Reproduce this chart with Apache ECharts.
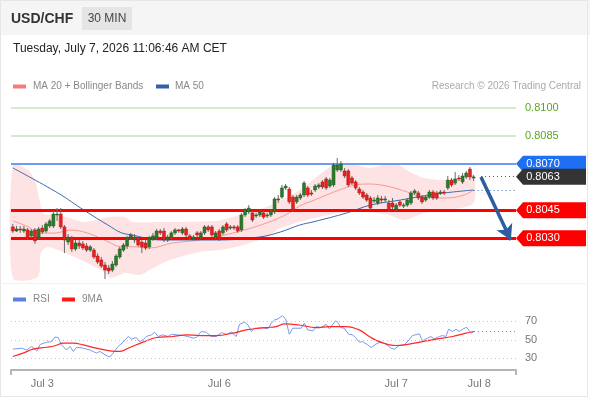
<!DOCTYPE html>
<html>
<head>
<meta charset="utf-8">
<script src="https://cdn.jsdelivr.net/npm/echarts@6.0.0/dist/echarts.min.js"></script>
<style>
  html, body { margin: 0; padding: 0; background: #fff; }
  #chart { width: 590px; height: 400px; }
</style>
</head>
<body>
<div id="chart"></div>
<script>
const FONT = '"Liberation Sans", Arial, sans-serif';

// candles, 30 min, index 0..125
const candleOpen = [
  0.80361,0.80339,0.80350,0.80339,0.80345,0.80313,0.80345,0.80307,0.80355,0.80339,
  0.80366,0.80366,0.80425,0.80430,0.80361,0.80280,0.80302,0.80243,0.80275,0.80270,
  0.80259,0.80237,0.80237,0.80205,0.80184,0.80157,0.80141,0.80130,0.80157,0.80200,
  0.80237,0.80259,0.80302,0.80291,0.80291,0.80280,0.80275,0.80254,0.80296,0.80307,
  0.80339,0.80339,0.80291,0.80307,0.80329,0.80345,0.80329,0.80350,0.80313,0.80296,
  0.80329,0.80307,0.80329,0.80361,0.80361,0.80307,0.80339,0.80329,0.80377,0.80355,
  0.80361,0.80361,0.80345,0.80425,0.80441,0.80436,0.80420,0.80425,0.80436,0.80420,
  0.80425,0.80441,0.80511,0.80521,0.80570,0.80564,0.80521,0.80495,0.80516,0.80532,
  0.80570,0.80543,0.80559,0.80575,0.80602,0.80618,0.80580,0.80586,0.80666,0.80666,
  0.80661,0.80661,0.80623,0.80602,0.80564,0.80548,0.80532,0.80516,0.80500,0.80489,
  0.80511,0.80505,0.80489,0.80489,0.80457,0.80495,0.80473,0.80478,0.80489,0.80543,
  0.80543,0.80521,0.80505,0.80521,0.80548,0.80543,0.80543,0.80548,0.80570,0.80612,
  0.80596,0.80623,0.80602,0.80629,0.80671,0.80623
];
const candleClose = [
  0.80339,0.80350,0.80345,0.80350,0.80302,0.80339,0.80286,0.80350,0.80334,0.80377,
  0.80393,0.80430,0.80430,0.80361,0.80291,0.80307,0.80243,0.80275,0.80259,0.80248,
  0.80237,0.80254,0.80200,0.80173,0.80151,0.80130,0.80125,0.80162,0.80205,0.80243,
  0.80264,0.80302,0.80318,0.80307,0.80264,0.80254,0.80248,0.80302,0.80313,0.80339,
  0.80329,0.80291,0.80307,0.80329,0.80345,0.80339,0.80350,0.80318,0.80307,0.80307,
  0.80318,0.80329,0.80361,0.80345,0.80318,0.80329,0.80296,0.80361,0.80345,0.80361,
  0.80355,0.80339,0.80425,0.80452,0.80462,0.80398,0.80425,0.80441,0.80414,0.80425,
  0.80441,0.80511,0.80505,0.80570,0.80580,0.80495,0.80452,0.80521,0.80532,0.80596,
  0.80532,0.80537,0.80580,0.80586,0.80575,0.80570,0.80612,0.80693,0.80693,0.80698,
  0.80634,0.80586,0.80596,0.80570,0.80543,0.80521,0.80505,0.80462,0.80505,0.80516,
  0.80505,0.80511,0.80452,0.80468,0.80478,0.80478,0.80478,0.80505,0.80543,0.80554,
  0.80516,0.80495,0.80521,0.80548,0.80516,0.80516,0.80548,0.80543,0.80612,0.80586,
  0.80618,0.80618,0.80634,0.80650,0.80629,0.80629
];
const candleLow = [
  0.80329,0.80334,0.80329,0.80329,0.80291,0.80302,0.80270,0.80296,0.80323,0.80329,
  0.80355,0.80355,0.80393,0.80350,0.80221,0.80264,0.80227,0.80232,0.80243,0.80237,
  0.80227,0.80227,0.80189,0.80162,0.80141,0.80082,0.80109,0.80119,0.80146,0.80189,
  0.80227,0.80243,0.80291,0.80275,0.80254,0.80221,0.80237,0.80243,0.80286,0.80296,
  0.80318,0.80280,0.80280,0.80296,0.80318,0.80329,0.80318,0.80307,0.80291,0.80286,
  0.80307,0.80296,0.80318,0.80334,0.80307,0.80296,0.80286,0.80318,0.80334,0.80345,
  0.80345,0.80329,0.80334,0.80414,0.80430,0.80387,0.80409,0.80414,0.80404,0.80409,
  0.80414,0.80430,0.80489,0.80511,0.80559,0.80484,0.80441,0.80484,0.80505,0.80521,
  0.80521,0.80527,0.80548,0.80564,0.80564,0.80559,0.80570,0.80575,0.80655,0.80655,
  0.80623,0.80575,0.80586,0.80559,0.80532,0.80511,0.80495,0.80452,0.80489,0.80478,
  0.80489,0.80495,0.80441,0.80457,0.80446,0.80468,0.80462,0.80468,0.80478,0.80532,
  0.80505,0.80484,0.80495,0.80511,0.80505,0.80505,0.80532,0.80532,0.80559,0.80575,
  0.80586,0.80607,0.80591,0.80618,0.80612,0.80607
];
const candleHigh = [
  0.80377,0.80366,0.80366,0.80366,0.80355,0.80350,0.80355,0.80361,0.80371,0.80387,
  0.80404,0.80446,0.80462,0.80462,0.80371,0.80323,0.80313,0.80291,0.80291,0.80286,
  0.80275,0.80264,0.80248,0.80221,0.80200,0.80173,0.80157,0.80178,0.80216,0.80254,
  0.80275,0.80313,0.80329,0.80323,0.80307,0.80291,0.80291,0.80313,0.80329,0.80350,
  0.80350,0.80355,0.80318,0.80339,0.80355,0.80350,0.80361,0.80361,0.80323,0.80318,
  0.80339,0.80339,0.80371,0.80371,0.80371,0.80339,0.80350,0.80371,0.80387,0.80371,
  0.80371,0.80371,0.80436,0.80462,0.80478,0.80446,0.80436,0.80452,0.80446,0.80436,
  0.80452,0.80521,0.80532,0.80586,0.80591,0.80575,0.80532,0.80532,0.80543,0.80607,
  0.80580,0.80559,0.80591,0.80596,0.80612,0.80629,0.80623,0.80704,0.80730,0.80714,
  0.80677,0.80671,0.80634,0.80612,0.80575,0.80559,0.80543,0.80527,0.80521,0.80532,
  0.80527,0.80527,0.80505,0.80516,0.80489,0.80505,0.80489,0.80516,0.80554,0.80564,
  0.80554,0.80532,0.80532,0.80559,0.80559,0.80554,0.80559,0.80559,0.80634,0.80623,
  0.80655,0.80639,0.80650,0.80661,0.80682,0.80639
];

// moving averages and bands, x in candle index
const ma50X = [0, 12.2, 19.5, 25.8, 29.4, 32.3, 39.8, 55.3, 66.9, 72.6, 77.8, 81.7, 90.8, 97, 105.1, 114.2, 125];
const ma50 = [0.80677, 0.80543, 0.80448, 0.80371, 0.80330, 0.80318, 0.80291, 0.80291, 0.80307, 0.80334, 0.80371, 0.80389, 0.80437, 0.80478, 0.80505, 0.80536, 0.80559];

const ma20X = [0, 4.1, 7.6, 11.3, 15.7, 20.3, 25.8, 29.3, 32.3, 37.1, 43.4, 50.7, 59.6, 68.8, 75, 77.8, 81.8, 88.6, 93.1, 96.7, 102.1, 107, 111.1, 117.6, 122.4, 125];
const ma20 = [0.80394, 0.80362, 0.80328, 0.80328, 0.80344, 0.80328, 0.80282, 0.80255, 0.80255, 0.80248, 0.80275, 0.80291, 0.80328, 0.80382, 0.80436, 0.80473, 0.80505, 0.80559, 0.80586, 0.80591, 0.80577, 0.80548, 0.80523, 0.80516, 0.80532, 0.80559];

const bandUpX = [0, 4.1, 6.0, 7.2, 8.3, 11.4, 13.6, 19.5, 25.8, 30.4, 32.5, 39.8, 55.3, 59.6, 68.8, 77.8, 86.1, 90.8, 97, 103.5, 107.8, 111.6, 117.6, 122.4, 125];
const bandUp = [0.80693, 0.80666, 0.80612, 0.80505, 0.80433, 0.80425, 0.80420, 0.80387, 0.80414, 0.80414, 0.80387, 0.80387, 0.80393, 0.80414, 0.80468, 0.80559, 0.80682, 0.80704, 0.80677, 0.80704, 0.80655, 0.80623, 0.80612, 0.80629, 0.80645];

const bandLoX = [0, 6.8, 7.6, 9.5, 16.8, 23.9, 26.6, 30.4, 34.4, 37.1, 41.2, 45.3, 50.7, 56.1, 61.5, 68.3, 72.6, 81.8, 90.8, 96.2, 102.1, 106.2, 111.6, 118.6, 125];
const bandLo = [0.80087, 0.80093, 0.80221, 0.80254, 0.80200, 0.80130, 0.80087, 0.80114, 0.80103, 0.80130, 0.80173, 0.80200, 0.80227, 0.80237, 0.80259, 0.80302, 0.80355, 0.80409, 0.80441, 0.80441, 0.80425, 0.80398, 0.80436, 0.80452, 0.80489];

// RSI panel
const rsiX = [0, 2.4, 3.8, 5.1, 6.5, 7.4, 9.2, 10.5, 11.4, 12.3, 13.2, 14.6, 15.5, 16.4, 17.3, 19.1, 20.9, 22.7, 23.6, 25, 26.3, 27.2, 28.6, 29.9, 31.3, 32.2, 33.5, 34.4, 35.3, 36.2, 37.6, 38.5, 39.4, 40.7, 42.1, 43, 44.4, 46.2, 47.5, 48.9, 49.8, 51.1, 52.5, 53.8, 55.2, 56.6, 57.9, 59.3, 60.6, 61.5, 62.9, 63.8, 64.7, 65.6, 67.8, 69.2, 70.1, 71, 71.9, 73.1, 74, 75, 75.9, 78.2, 79.1, 80, 81.4, 82.3, 83.6, 85, 85.9, 87.5, 88.1, 89, 89.9, 91.1, 92.2, 93.1, 94, 94.9, 96.3, 97.2, 98.5, 99.9, 101.2, 102.6, 103.5, 104.8, 106.2, 107.5, 108.4, 110.3, 111.1, 112.5, 113.4, 114.3, 115.7, 116.6, 117.5, 118.2, 119.3, 120.2, 121.1, 122, 123.1, 124.3, 125.1];
const rsi = [40, 41, 39, 43, 38, 45, 47.5, 48, 53, 52.5, 44.6, 39, 43, 37.5, 42, 41, 39, 35.7, 37.5, 34, 31.4, 35.7, 43, 47.5, 53.6, 50.7, 52.5, 48, 50, 53.6, 55.4, 58.2, 53.6, 55.4, 53.6, 56, 55.4, 54.6, 53.6, 51.8, 52.5, 59, 58.2, 53.6, 53.6, 57.8, 56, 58.2, 53.6, 66.8, 69, 66, 59, 62.5, 63.2, 61.8, 67.9, 71.4, 72.5, 76, 72.5, 56, 62.5, 62.5, 68, 60.7, 59.6, 64.3, 63.2, 66.8, 61.8, 70.4, 69, 63.2, 62.5, 56, 55.4, 51.8, 47.5, 48, 44.6, 41.7, 45.4, 48, 45.4, 41, 40, 43.9, 44.6, 50, 54.6, 56.4, 48.9, 51.8, 53.6, 51, 53.6, 54.6, 53.6, 61.4, 59, 61.4, 59, 61.4, 63.6, 57.2, 59];
const maRsiX = [0, 2.8, 5.5, 9.2, 11.4, 13.7, 16.4, 19.1, 22.7, 26.3, 29, 31.7, 35.3, 39, 43.4, 47.1, 50.7, 55.2, 59.7, 63.3, 68.7, 71.4, 73.7, 77.7, 82.3, 85.9, 90.4, 94, 96.7, 99.4, 103.9, 107.5, 111.1, 114.8, 119.3, 122.9, 125.1];
const maRsi = [32, 35.7, 40, 42, 43.6, 46.4, 46.4, 44.6, 41, 38.2, 37.5, 41.7, 47.5, 52.5, 53.6, 55.4, 54.6, 54.6, 57.2, 60.7, 63.2, 64.3, 67.2, 66, 63.2, 64.3, 64.3, 60.7, 53.6, 48, 43.9, 45.4, 48, 50.7, 53.6, 57.2, 59];
const rsiLevels = [30, 50, 70];

// day labels on the time axis
const dayTicks = [8, 56, 104, 126.5];
const dayLabels = ['Jul 3', 'Jul 6', 'Jul 7', 'Jul 8'];

// levels
const targetLevels = [0.8100, 0.8085];
const resistance = 0.8070;
const supports = [0.8045, 0.8030];
const lastPrice = 0.8063;
const lastMa50 = 0.80559;
const lastRsi = 59;
const arrowFrom = [127, 0.80629];
const arrowTo = [135.1, 0.80291];

const xMin = -0.5, xMax = 136.5;

const zip = (xs, ys) => xs.map((x, k) => [x, ys[k]]);
const candles = candleOpen.map((o, i) => [i, o, candleClose[i], candleLow[i], candleHigh[i]]);

function tag(value, color) {
  return {
    name: value.toFixed(4),
    coord: [xMax, value],
    itemStyle: { color: color }
  };
}

const chart = echarts.init(document.getElementById('chart'));

const option = {
  animation: false,
  textStyle: { fontFamily: FONT },
  grid: [
    { left: 11, right: 74, top: 89, height: 205.3 },
    { left: 11, right: 74, top: 302.7, height: 67.3 }
  ],
  xAxis: [
    { gridIndex: 0, type: 'value', min: xMin, max: xMax, show: false },
    {
      gridIndex: 1, type: 'value', min: xMin, max: xMax,
      splitLine: { show: false },
      axisLine: { show: true, lineStyle: { color: '#b5b5b5', width: 2 } },
      axisTick: { show: true, customValues: [xMin, xMax], length: 5, lineStyle: { color: '#b5b5b5', width: 2 } },
      axisLabel: {
        customValues: dayTicks,
        formatter: v => dayLabels[dayTicks.indexOf(v)] || '',
        color: '#777', fontSize: 11, margin: 8
      }
    }
  ],
  yAxis: [
    { gridIndex: 0, type: 'value', min: 0.8000, max: 0.8110, show: false },
    { gridIndex: 1, type: 'value', min: 17.5, max: 90, show: false }
  ],
  graphic: [
    { type: 'rect', shape: { x: 0, y: 0, width: 590, height: 35 }, style: { fill: '#f5f5f5' }, silent: true },
    { type: 'rect', shape: { x: 0.5, y: 0.5, width: 587, height: 396 }, style: { fill: 'none', stroke: '#e6e6e6' }, silent: true },
    { type: 'line', shape: { x1: 0, y1: 283.5, x2: 588, y2: 283.5 }, style: { stroke: '#f0f0f0' }, silent: true },
    { type: 'text', x: 11, y: 19, style: { text: 'USD/CHF', font: 'bold 14px ' + FONT, fill: '#333', verticalAlign: 'middle' } },
    { type: 'rect', shape: { x: 82, y: 7, width: 50, height: 23 }, style: { fill: '#e5e5e5' } },
    { type: 'text', x: 107, y: 19, style: { text: '30 MIN', font: '12px ' + FONT, fill: '#444', align: 'center', verticalAlign: 'middle' } },
    { type: 'text', x: 13, y: 49, style: { text: 'Tuesday, July 7, 2026 11:06:46 AM CET', font: '12px ' + FONT, fill: '#222', verticalAlign: 'middle' } },
    { type: 'rect', shape: { x: 13, y: 84.5, width: 13, height: 4 }, style: { fill: '#f47c7c' } },
    { type: 'text', x: 33, y: 86.5, style: { text: 'MA 20 + Bollinger Bands', font: '10px ' + FONT, fill: '#888', verticalAlign: 'middle' } },
    { type: 'rect', shape: { x: 156, y: 84.5, width: 13, height: 4 }, style: { fill: '#3560a6' } },
    { type: 'text', x: 175, y: 86.5, style: { text: 'MA 50', font: '10px ' + FONT, fill: '#888', verticalAlign: 'middle' } },
    { type: 'text', x: 581, y: 86.5, style: { text: 'Research \u00a9 2026 Trading Central', font: '10px ' + FONT, fill: '#aaa', align: 'right', verticalAlign: 'middle' } },
    { type: 'rect', shape: { x: 13, y: 297.5, width: 13, height: 4 }, style: { fill: '#5b7ee0' } },
    { type: 'text', x: 33, y: 299.5, style: { text: 'RSI', font: '10px ' + FONT, fill: '#888', verticalAlign: 'middle' } },
    { type: 'rect', shape: { x: 62, y: 297.5, width: 13, height: 4 }, style: { fill: '#ff1a1a' } },
    { type: 'text', x: 82, y: 299.5, style: { text: '9MA', font: '10px ' + FONT, fill: '#888', verticalAlign: 'middle' } }
  ],
  series: [
    {
      name: 'Bollinger',
      type: 'custom',
      xAxisIndex: 0, yAxisIndex: 0,
      silent: true,
      z: 1,
      data: [[0, bandUp[0]]],
      renderItem: function (params, api) {
        const up = bandUpX.map((x, k) => api.coord([x, bandUp[k]]));
        const lo = bandLoX.map((x, k) => api.coord([x, bandLo[k]])).reverse();
        return {
          type: 'polygon',
          shape: { points: up.concat(lo), smooth: 0.25 },
          style: { fill: '#fde3e3' }
        };
      }
    },
    {
      name: 'MA 20',
      type: 'line',
      xAxisIndex: 0, yAxisIndex: 0,
      data: zip(ma20X, ma20),
      smooth: 0.4, symbol: 'none', silent: true, z: 2,
      lineStyle: { color: '#f59a9a', width: 1 }
    },
    {
      name: 'MA 50',
      type: 'line',
      xAxisIndex: 0, yAxisIndex: 0,
      data: zip(ma50X, ma50),
      smooth: 0.4, symbol: 'none', silent: true, z: 3,
      lineStyle: { color: '#3f68ad', width: 1 },
      markLine: {
        silent: true,
        precision: 5,
        symbol: ['none', 'none'],
        label: { show: false },
        data: [
          { yAxis: targetLevels[0], lineStyle: { color: '#c9e3b6', width: 1.5, type: 'solid' },
            label: { show: true, position: 'end', distance: 9, formatter: targetLevels[0].toFixed(4), color: '#5aa626', fontSize: 11 } },
          { yAxis: targetLevels[1], lineStyle: { color: '#c9e3b6', width: 1.5, type: 'solid' },
            label: { show: true, position: 'end', distance: 9, formatter: targetLevels[1].toFixed(4), color: '#5aa626', fontSize: 11 } },
          { yAxis: resistance, lineStyle: { color: '#6f9cf0', width: 2, type: 'solid' } },
          { yAxis: supports[0], lineStyle: { color: '#ff0000', width: 3, type: 'solid' } },
          { yAxis: supports[1], lineStyle: { color: '#ff0000', width: 3, type: 'solid' } },
          [
            { coord: [candles.length + 1, lastPrice], lineStyle: { color: '#555', width: 1, type: [1, 3] } },
            { coord: [xMax, lastPrice] }
          ],
          [
            { coord: [ma50X[ma50X.length - 1], lastMa50], lineStyle: { color: '#3f68ad', width: 1, type: [1, 3] } },
            { coord: [xMax, lastMa50] }
          ],
          [
            { coord: arrowFrom, symbol: 'none', lineStyle: { color: '#2c5d9f', width: 3.5, type: 'solid' } },
            { coord: arrowTo, symbol: 'arrow', symbolSize: [13, 15] }
          ]
        ]
      },
      markPoint: {
        silent: true,
        symbol: 'path://M0,8 L7,0 L70,0 L70,16 L7,16 Z',
        symbolSize: [70, 16],
        symbolOffset: [35, 0],
        label: { show: true, position: 'inside', offset: [-8, 0], formatter: p => p.name, color: '#fff', fontSize: 11, fontFamily: FONT },
        data: [
          tag(resistance, '#1e6ff2'),
          tag(lastPrice, '#333333'),
          tag(supports[0], '#ff0000'),
          tag(supports[1], '#ff0000')
        ]
      }
    },
    {
      name: 'USD/CHF',
      type: 'custom',
      xAxisIndex: 0, yAxisIndex: 0,
      silent: true,
      z: 5,
      data: candles,
      encode: { x: 0, y: [1, 2, 3, 4] },
      renderItem: function (params, api) {
        const i = api.value(0);
        const o = api.value(1), c = api.value(2), l = api.value(3), h = api.value(4);
        const pO = api.coord([i, o]), pC = api.coord([i, c]);
        const pL = api.coord([i, l]), pH = api.coord([i, h]);
        const up = c >= o;
        const top = Math.min(pO[1], pC[1]);
        const hgt = Math.max(Math.abs(pO[1] - pC[1]), 1);
        const w = 3;
        return {
          type: 'group',
          children: [
            { type: 'line', shape: { x1: pL[0], y1: pL[1], x2: pH[0], y2: pH[1] }, style: { stroke: '#6a6a6a', lineWidth: 1 } },
            { type: 'rect', shape: { x: pO[0] - w / 2, y: top, width: w, height: hgt },
              style: { fill: up ? '#2b7a2b' : '#e8201f', stroke: up ? '#1f5c1f' : '#b81414', lineWidth: 0.5 } }
          ]
        };
      }
    },
    {
      name: 'RSI',
      type: 'line',
      xAxisIndex: 1, yAxisIndex: 1,
      data: zip(rsiX, rsi),
      symbol: 'none', silent: true, z: 3,
      lineStyle: { color: '#7b98ea', width: 1 },
      markLine: {
        silent: true,
        precision: 2,
        symbol: ['none', 'none'],
        label: { show: true, position: 'end', distance: 9, color: '#777', fontSize: 11, formatter: '{c}' },
        lineStyle: { color: '#c4c4c4', width: 1, type: [1, 3] },
        data: rsiLevels.map(v => ({ yAxis: v })).concat([
          [
            { coord: [rsiX[rsiX.length - 1], lastRsi], label: { show: false }, lineStyle: { color: '#6d8ee8', width: 1, type: [1, 3] } },
            { coord: [xMax, lastRsi] }
          ]
        ])
      }
    },
    {
      name: '9MA',
      type: 'line',
      xAxisIndex: 1, yAxisIndex: 1,
      data: zip(maRsiX, maRsi),
      smooth: 0.4, symbol: 'none', silent: true, z: 4,
      lineStyle: { color: '#ff2626', width: 1.2 }
    }
  ]
};

chart.setOption(option);
</script>
</body>
</html>
